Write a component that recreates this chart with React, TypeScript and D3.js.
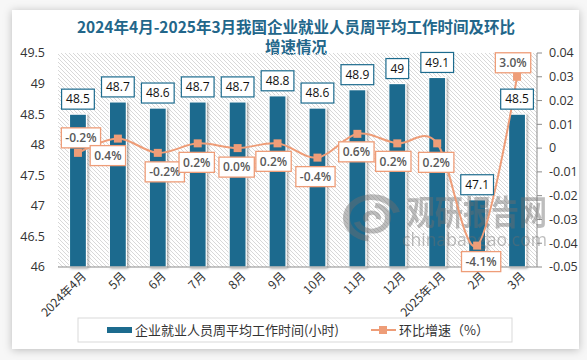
import React from 'react';
import * as d3 from 'd3';

// ---------- data ----------
const categories = ['2024年4月', '5月', '6月', '7月', '8月', '9月', '10月', '11月', '12月', '2025年1月', '2月', '3月'];
const workHours = [48.5, 48.7, 48.6, 48.7, 48.7, 48.8, 48.6, 48.9, 49, 49.1, 47.1, 48.5];
const momGrowthPct = [-0.2, 0.4, -0.2, 0.2, 0.0, 0.2, -0.4, 0.6, 0.2, 0.2, -4.1, 3.0];
const leftTicks = [46, 46.5, 47, 47.5, 48, 48.5, 49, 49.5];
const rightTicks = [-0.05, -0.04, -0.03, -0.02, -0.01, 0, 0.01, 0.02, 0.03, 0.04];
const titleLine1 = '2024年4月-2025年3月我国企业就业人员周平均工作时间及环比';
const titleLine2 = '增速情况';
const barLegendText = '企业就业人员周平均工作时间(小时)';
const lineLegendText = '环比增速（%）';
const watermarkCn = '观研报告网';
const watermarkEn = 'chinabaogao.com';

// ---------- layout ----------
const W = 587;
const H = 360;
const plot = { left: 58, right: 537, top: 53, bottom: 267 };
const lineLabelOffsets: [number, number][] = [
  [3, -15], [-10, 17], [7, 19], [-1, 19], [-1, 19], [-4, 18],
  [-2, 19], [-1, 18], [-4, 18], [-1, 19], [4, 16], [-4, -14],
];
const NUM_FONT = "'Open Sans', 'Noto Sans CJK SC', sans-serif";
const CJK_FONT = "'Noto Sans CJK SC', 'Noto Sans', sans-serif";
const BAR_COLOR = '#1c6b8e';
const LINE_COLOR = '#ee9d78';
const TEXT_COLOR = '#333333';

let _ctx: CanvasRenderingContext2D | null = null;
function measure(text: string, font: string): number {
  if (!_ctx && typeof document !== 'undefined') _ctx = document.createElement('canvas').getContext('2d');
  if (!_ctx) return text.length * 7;
  _ctx.font = font;
  return _ctx.measureText(text).width;
}

export default function App() {
  const x = d3.scaleBand<string>().domain(categories).range([plot.left, plot.right]).paddingInner(0).paddingOuter(0);
  const band = x.bandwidth();
  const barW = 17;
  const yL = d3.scaleLinear().domain([46, 49.5]).range([plot.bottom, plot.top]);
  const yR = d3.scaleLinear().domain([-0.05, 0.04]).range([plot.bottom, plot.top]);
  const cx = (c: string) => (x(c) as number) + band / 2;

  const linePts: [number, number][] = categories.map((c, i) => [cx(c), yR(momGrowthPct[i] / 100)]);
  const linePath = d3.line().curve(d3.curveCatmullRom.alpha(0))(linePts) || '';

  const barFont = `12px ${NUM_FONT}`;
  const lineFont = `600 12px ${NUM_FONT}`;

  // watermark logo arcs
  const arcGen = d3.arc();
  const logoArcs = [
    arcGen({ innerRadius: 22, outerRadius: 29, startAngle: -3.0, endAngle: 1.3 } as any) || '',
    arcGen({ innerRadius: 13, outerRadius: 19, startAngle: 0.2, endAngle: 4.4 } as any) || '',
    arcGen({ innerRadius: 4, outerRadius: 9, startAngle: -2.2, endAngle: 1.8 } as any) || '',
  ];

  return (
    <svg width={W} height={H} style={{ position: 'absolute', left: 0, top: 0 }} xmlns="http://www.w3.org/2000/svg">
      <defs>
        <filter id="cardShadow" x="-5%" y="-5%" width="110%" height="110%">
          <feDropShadow dx="0" dy="1" stdDeviation="4" floodColor="#000" floodOpacity="0.25" />
        </filter>
        <filter id="barShadow" x="-40%" y="-10%" width="180%" height="120%">
          <feDropShadow dx="1.5" dy="1" stdDeviation="1.3" floodColor="#000" floodOpacity="0.35" />
        </filter>
        <pattern id="hatch" patternUnits="userSpaceOnUse" width="4" height="4">
          <path d="M-1,-1 L5,5 M-1,3 L1,5 M3,-1 L5,1" stroke="#d4d4d4" strokeWidth="0.9" />
        </pattern>
      </defs>
      <rect x={0} y={0} width={W} height={H} fill="#f7f7f7" />
      <rect x={12} y={10} width={567} height={339} fill="#ffffff" filter="url(#cardShadow)" />

      {/* title */}
      <g fontFamily={CJK_FONT} fontWeight="bold" fontSize={15.5} fill="#22668a" textAnchor="middle">
        <text x={296} y={33}>{titleLine1}</text>
        <text x={296} y={53}>{titleLine2}</text>
      </g>

      {/* plot background */}
      <rect x={plot.left} y={plot.top} width={plot.right - plot.left} height={plot.bottom - plot.top} fill="url(#hatch)" />

      {/* left axis labels */}
      <g fontFamily={NUM_FONT} fontSize={12.5} fill={TEXT_COLOR} textAnchor="end">
        {leftTicks.map((t) => (
          <text key={t} x={45} y={yL(t)} dy="0.35em">{String(t)}</text>
        ))}
      </g>

      {/* right axis */}
      <line x1={plot.right} x2={plot.right} y1={plot.top} y2={plot.bottom} stroke="#8c8c8c" strokeWidth={1} />
      <g fontFamily={NUM_FONT} fontSize={12.5} fill={TEXT_COLOR} textAnchor="start">
        {rightTicks.map((t) => (
          <g key={t}>
            <line x1={plot.right} x2={plot.right + 5} y1={yR(t)} y2={yR(t)} stroke="#8c8c8c" />
            <text x={549} y={yR(t)} dy="0.35em">{t === 0 ? '0' : t.toFixed(2)}</text>
          </g>
        ))}
      </g>

      {/* bars */}
      <g filter="url(#barShadow)">
        {categories.map((c, i) => (
          <rect key={c} x={cx(c) - barW / 2} y={yL(workHours[i])} width={barW} height={plot.bottom - yL(workHours[i])}
            fill={BAR_COLOR} stroke="#ffffff" strokeWidth={1.2} />
        ))}
      </g>

      {/* x axis */}
      <line x1={plot.left} x2={plot.right} y1={plot.bottom} y2={plot.bottom} stroke="#8c8c8c" strokeWidth={1} />
      <g fontFamily={CJK_FONT} fontSize={12} fill={TEXT_COLOR} textAnchor="end">
        {categories.map((c) => (
          <text key={c} transform={`translate(${cx(c) + 6},${plot.bottom + 7}) rotate(-45)`} dy="0.35em">{c}</text>
        ))}
      </g>

      {/* watermark */}
      <g opacity={0.45} fill="#6e6e6e">
        <g transform="translate(372,218) scale(1,0.82)">
          {logoArcs.map((d, i) => <path key={i} d={d} />)}
        </g>
        <text x={407} y={225} textLength={140} lengthAdjust="spacingAndGlyphs" fontFamily={CJK_FONT} fontWeight="bold" fontSize={34}>{watermarkCn}</text>
        <text x={402} y={246} textLength={145} lengthAdjust="spacingAndGlyphs" fontFamily={NUM_FONT} fontSize={19}>{watermarkEn}</text>
      </g>

      {/* line */}
      <path d={linePath} fill="none" stroke={LINE_COLOR} strokeWidth={2} />
      {linePts.map(([px, py], i) => (
        <rect key={i} x={px - 4} y={py - 4} width={8} height={8} fill={LINE_COLOR} />
      ))}

      {/* bar labels */}
      <g fontFamily={NUM_FONT} fontSize={12} fill="#111">
        {categories.map((c, i) => {
          const label = String(workHours[i]);
          const w = measure(label, barFont) + 9;
          const yc = yL(workHours[i]) - 15;
          return (
            <g key={c}>
              <rect x={cx(c) - w / 2} y={yc - 10} width={w} height={20} fill="#fff" stroke={BAR_COLOR} strokeWidth={1.2} />
              <text x={cx(c)} y={yc} dy="0.36em" textAnchor="middle">{label}</text>
            </g>
          );
        })}
      </g>

      {/* line labels */}
      <g fontFamily={NUM_FONT} fontSize={12} fontWeight={600} fill="#595959">
        {linePts.map(([px, py], i) => {
          const label = momGrowthPct[i].toFixed(1) + '%';
          const w = measure(label, lineFont) + 8;
          const lx = px + lineLabelOffsets[i][0];
          const ly = py + lineLabelOffsets[i][1];
          return (
            <g key={i}>
              <rect x={lx - w / 2} y={ly - 10} width={w} height={20} fill="#fff" stroke={LINE_COLOR} strokeWidth={1.3} />
              <text x={lx} y={ly} dy="0.36em" textAnchor="middle">{label}</text>
            </g>
          );
        })}
      </g>

      {/* legend */}
      <rect x={78} y={318} width={434} height={24} fill="#fff" stroke="#d9d9d9" strokeWidth={1} />
      <rect x={107} y={327} width={25} height={6} fill={BAR_COLOR} />
      <text x={135} y={330} dy="0.35em" fontFamily={CJK_FONT} fontSize={13} fill={TEXT_COLOR}>{barLegendText}</text>
      <line x1={371} x2={396} y1={330} y2={330} stroke={LINE_COLOR} strokeWidth={2} />
      <rect x={379} y={326} width={8} height={8} fill={LINE_COLOR} />
      <text x={399} y={330} dy="0.35em" fontFamily={CJK_FONT} fontSize={13} fill={TEXT_COLOR}>{lineLegendText}</text>
    </svg>
  );
}
